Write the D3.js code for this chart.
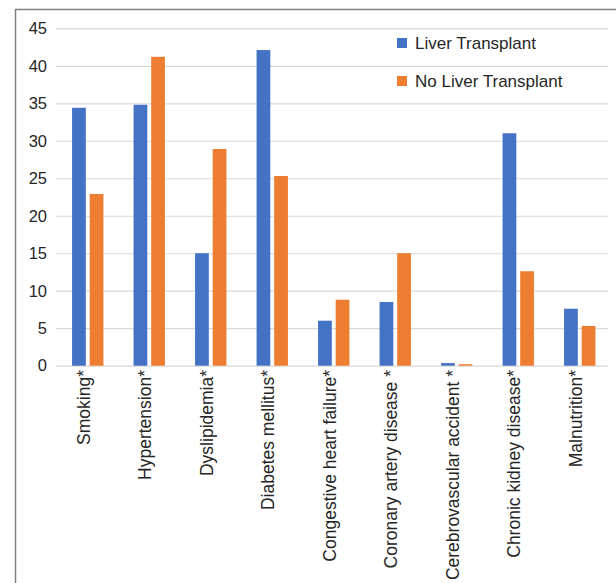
<!DOCTYPE html>
<html>
<head>
<meta charset="utf-8">
<script src="https://cdn.jsdelivr.net/npm/d3@7"></script>
<style>
  body { margin: 0; background: #fff; }
  text { font-family: "Liberation Sans", Arial, sans-serif; fill: #262626; }
</style>
</head>
<body>
<div id="chart"></div>
<script>
// Data
const categories = ["Smoking*", "Hypertension*", "Dyslipidemia*", "Diabetes mellitus*",
  "Congestive heart failure*", "Coronary artery disease *", "Cerebrovascular accident *",
  "Chronic kidney disease*", "Malnutrition*"];
const seriesNames = ["Liver Transplant", "No Liver Transplant"];
const liverTransplant = [34.4, 34.8, 15.0, 42.1, 6.0, 8.5, 0.35, 31.0, 7.6];
const noLiverTransplant = [22.9, 41.2, 28.9, 25.3, 8.8, 15.0, 0.2, 12.6, 5.3];
const yTicks = [0, 5, 10, 15, 20, 25, 30, 35, 40, 45];

const width = 616, height = 583;
const plot = { left: 56, right: 608, top: 28.3, bottom: 365.7 };

const data = categories.map((c, i) => ({
  category: c,
  values: [
    { key: seriesNames[0], value: liverTransplant[i] },
    { key: seriesNames[1], value: noLiverTransplant[i] }
  ]
}));

const svg = d3.select("#chart")
  .append("svg")
    .attr("width", width)
    .attr("height", height);

/* Scales */
const x0 = d3.scaleBand()
  .domain(categories)
  .range([57, 610.5])
  .paddingInner(0.49)
  .paddingOuter(0.245);

const x1 = d3.scaleBand()
  .domain(seriesNames)
  .range([0, x0.bandwidth()])
  .paddingInner(0.22);

const y = d3.scaleLinear()
  .domain([0, 45])
  .range([plot.bottom, plot.top]);

const color = d3.scaleOrdinal()
  .domain(seriesNames)
  .range(["#4472C4", "#ED7D31"]);

/* Frame */
svg.append("path")
  .attr("d", `M15.5,${height} V9.5 H${width}`)
  .attr("fill", "none")
  .attr("stroke", "#808080")
  .attr("stroke-width", 1.5);

/* Grid + y axis */
const leftAxis = d3.axisLeft(y)
  .tickValues(yTicks)
  .tickSize(-(plot.right - plot.left))
  .tickPadding(9)
  .tickFormat(d3.format("d"));

const gy = svg.append("g")
  .attr("transform", `translate(${plot.left}, 0)`)
  .call(leftAxis);
gy.select(".domain").remove();
gy.selectAll(".tick line")
  .attr("stroke", "#d9d9d9")
  .attr("stroke-width", 1.2);
gy.selectAll(".tick text")
  .style("font-size", "16.5px")
  .attr("fill", "#262626");

/* Bars */
svg.append("g")
  .selectAll("g")
  .data(data)
  .join("g")
    .attr("transform", d => `translate(${x0(d.category)}, 0)`)
  .selectAll("rect")
  .data(d => d.values)
  .join("rect")
    .attr("x", d => x1(d.key))
    .attr("y", d => y(d.value))
    .attr("width", x1.bandwidth())
    .attr("height", d => y(0) - y(d.value))
    .attr("fill", d => color(d.key));

/* Category labels */
svg.append("g")
  .selectAll("text")
  .data(categories)
  .join("text")
    .text(d => d)
    .attr("text-anchor", "end")
    .attr("dy", "0.35em")
    .attr("transform", d => `translate(${x0(d) + x0.bandwidth() / 2 - 4}, 370) rotate(-90)`)
    .style("font-size", "17.5px");

/* Legend */
const legend = svg.append("g")
  .selectAll("g")
  .data(seriesNames)
  .join("g")
    .attr("transform", (d, i) => `translate(397, ${38 + i * 38})`);
legend.append("rect")
  .attr("width", 10)
  .attr("height", 10)
  .attr("fill", d => color(d));
legend.append("text")
  .text(d => d)
  .attr("x", 18)
  .attr("y", 5)
  .attr("dy", "0.35em")
  .style("font-size", "17px");
</script>
</body>
</html>
